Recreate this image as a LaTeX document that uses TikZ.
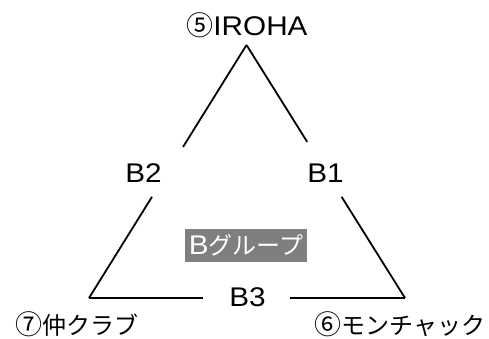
\documentclass[tikz,border=0pt]{standalone}
\usepackage{fontspec}
\setmainfont{Noto Sans CJK JP}
\newfontfamily\jpf{Noto Sans CJK JP}
\newfontfamily\latf[FakeStretch=1.1]{Liberation Sans}
\usetikzlibrary{calc}
\definecolor{boxgray}{HTML}{7F7F7F}
\tikzset{
  edge/.style={line width=1.8pt},
  lbl/.style={inner sep=0pt, anchor=center},
  grpbox/.style={fill=boxgray, text=white, inner sep=0pt, minimum width=122pt, minimum height=33pt},
}
\newcommand{\J}[1]{{\jpf\fontsize{24}{24}\selectfont #1}}
\newcommand{\C}[1]{{\jpf\fontsize{27}{27}\selectfont #1}}
\newcommand{\Lt}[1]{{\latf\fontsize{27}{27}\selectfont #1}}
\begin{document}
\begin{tikzpicture}[x=1pt,y=1pt]
\useasboundingbox (0,0) rectangle (489,338);
\coordinate (apex) at (246.5,293);
\coordinate (L) at (89,40);
\coordinate (R) at (405,40);
% labels
\node[lbl] (n5) at (247,313) {\C{⑤}\Lt{IROHA}};
\node[lbl] (n7) at (77,14) {\C{⑦}\J{仲クラブ}};
\node[lbl] (n6) at (400,14) {\C{⑥}\J{モンチャック}};
\node[lbl] (b2) at (143.5,165) {\Lt{B2}};
\node[lbl] (b1) at (325.5,165) {\Lt{B1}};
\node[lbl] (b3) at (247.5,40.5) {\Lt{B3}};
\node[grpbox] (grp) at (246,92.5) {\Lt{B}\J{グループ}};
% edges with gaps
\draw[edge] (apex) -- ($(apex)!0.403!(L)$);
\draw[edge] ($(apex)!0.60!(L)$) -- (L);
\draw[edge] (apex) -- ($(apex)!0.383!(R)$);
\draw[edge] ($(apex)!0.60!(R)$) -- (R);
\draw[edge] (L) -- ($(L)!0.361!(R)$);
\draw[edge] ($(L)!0.636!(R)$) -- (R);
\end{tikzpicture}
\end{document}
